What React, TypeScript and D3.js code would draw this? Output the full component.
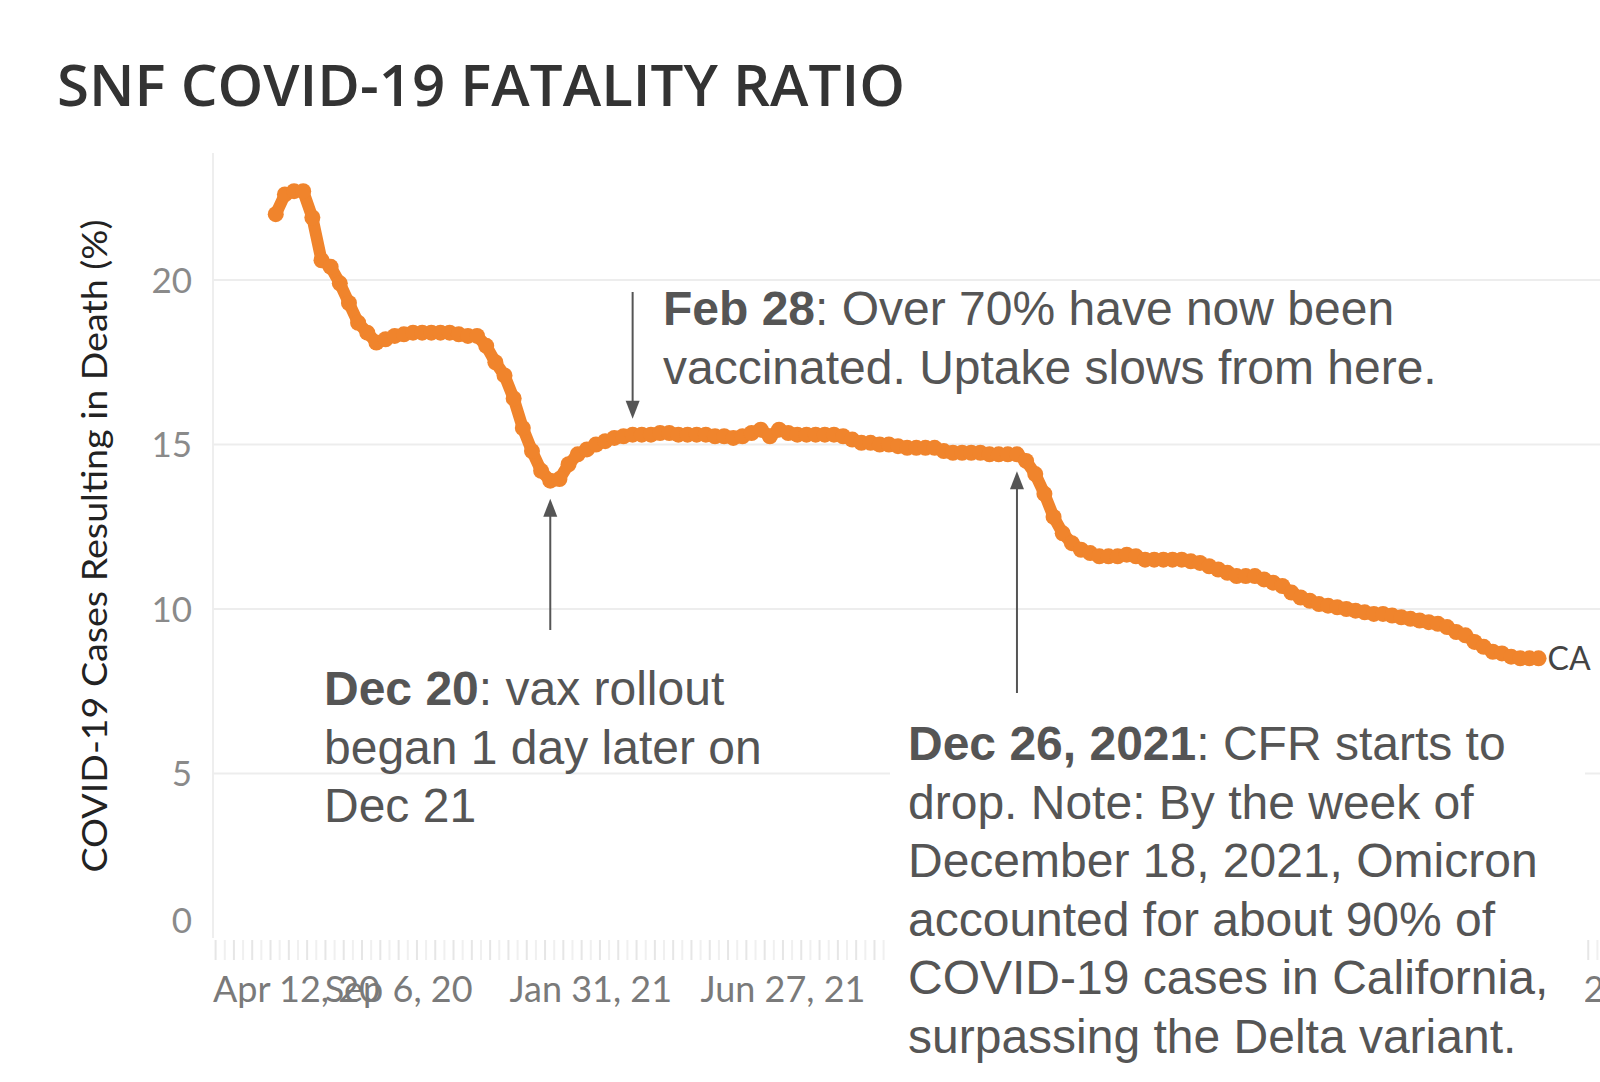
import { useRef, useEffect } from 'react';
import * as d3 from 'd3';

// weekly CFR values (%), first week starting Jun 4, 2020
const FIRST_WEEK = '2020-06-04';
const CFR_VALUES = [
  22.0, 22.6, 22.7, 22.7, 21.9, 20.6, 20.4, 19.9, 19.3, 18.7,
  18.4, 18.1, 18.2, 18.3, 18.35, 18.4, 18.4, 18.4, 18.4, 18.4,
  18.35, 18.3, 18.3, 18.0, 17.5, 17.1, 16.4, 15.5, 14.8, 14.2,
  13.9, 13.95, 14.4, 14.7, 14.85, 15.0, 15.1, 15.2, 15.25, 15.3,
  15.3, 15.3, 15.35, 15.35, 15.3, 15.3, 15.3, 15.3, 15.25, 15.25,
  15.2, 15.25, 15.35, 15.45, 15.25, 15.45, 15.35, 15.3, 15.3, 15.3,
  15.3, 15.3, 15.25, 15.15, 15.05, 15.05, 15.0, 15.0, 14.95, 14.9,
  14.9, 14.9, 14.9, 14.8, 14.75, 14.75, 14.75, 14.75, 14.7, 14.7,
  14.7, 14.7, 14.5, 14.1, 13.5, 12.8, 12.3, 12.0, 11.8, 11.7,
  11.6, 11.6, 11.6, 11.65, 11.6, 11.5, 11.5, 11.5, 11.5, 11.5,
  11.45, 11.4, 11.3, 11.2, 11.1, 11.0, 11.0, 11.0, 10.9, 10.8,
  10.7, 10.5, 10.35, 10.25, 10.15, 10.1, 10.05, 10.0, 9.95, 9.9,
  9.85, 9.85, 9.8, 9.75, 9.7, 9.65, 9.6, 9.55, 9.45, 9.3,
  9.2, 9.0, 8.85, 8.7, 8.65, 8.55, 8.5, 8.5, 8.5,
];
const SERIES_LABEL = 'CA';

const X_TICK_DATES = [
  '2020-04-12', '2020-09-06', '2021-01-31', '2021-06-27',
  '2021-11-21', '2022-04-17', '2022-09-11', '2023-02-05',
];
const Y_TICKS = [0, 5, 10, 15, 20];

const TITLE = 'SNF COVID-19 FATALITY RATIO';
const Y_TITLE = 'COVID-19 Cases Resulting in Death (%)';

// annotation text: [bold lead, rest of first line], then extra lines
const NOTE_FEB = ['Feb 28', ': Over 70% have now been', 'vaccinated. Uptake slows from here.'];
const NOTE_DEC20 = ['Dec 20', ': vax rollout', 'began 1 day later on', 'Dec 21'];
const NOTE_DEC26 = [
  'Dec 26, 2021', ': CFR starts to',
  'drop. Note: By the week of',
  'December 18, 2021, Omicron',
  'accounted for about 90% of',
  'COVID-19 cases in California,',
  'surpassing the Delta variant.',
];
// index of the weekly point each arrow points at
const ARROW_POINTS = { feb: 39, dec20: 30, dec26: 81 };

const W = 1600;
const H = 1082;
const P = { left: 213, top: 153, bottom: 938, right: W };
const ORANGE = '#f0842c';
const NOTE_FONT = '"Liberation Sans", Arial, sans-serif';
const TAB_FONT = 'Lato, "Open Sans", sans-serif';
// white panel that sits behind the Dec 26 note
const PANEL = { x: 890, y: 700, right: 1585 };

export default function App() {
  const svgRef = useRef<SVGSVGElement>(null);

  useEffect(() => {
    const svg = d3.select(svgRef.current);
    svg.selectAll('*').remove();

    const parse = d3.timeParse('%Y-%m-%d');
    const start = parse(FIRST_WEEK)!;
    const data = CFR_VALUES.map((v, i) => ({ date: d3.timeWeek.offset(start, i), v }));

    const x = d3
      .scaleTime()
      .domain([parse('2020-04-17')!, parse('2023-03-14')!])
      .range([P.left, P.right]);
    const y = d3.scaleLinear().domain([0, 20]).range([P.bottom, 280]);

    svg.append('rect').attr('width', W).attr('height', H).attr('fill', '#fff');

    // title
    svg
      .append('text')
      .attr('x', 57)
      .attr('y', 106)
      .attr('fill', '#333')
      .attr('font-family', '"Open Sans", Lato, sans-serif')
      .attr('font-weight', 600)
      .attr('font-size', 58)
      .attr('textLength', 848)
      .attr('lengthAdjust', 'spacingAndGlyphs')
      .text(TITLE);

    // pane border + grid
    svg
      .append('line')
      .attr('x1', P.left)
      .attr('x2', P.left)
      .attr('y1', P.top)
      .attr('y2', P.bottom)
      .attr('stroke', '#eeeeee')
      .attr('stroke-width', 2);

    Y_TICKS.forEach((t) => {
      if (t > 0) {
        svg
          .append('line')
          .attr('x1', P.left)
          .attr('x2', P.right)
          .attr('y1', y(t))
          .attr('y2', y(t))
          .attr('stroke', '#ededed')
          .attr('stroke-width', 2);
      }
      svg
        .append('text')
        .attr('x', 192)
        .attr('y', t === 0 ? y(t) - 18 : y(t))
        .attr('dy', '0.36em')
        .attr('text-anchor', 'end')
        .attr('fill', '#8a8a8a')
        .attr('font-family', TAB_FONT)
        .attr('font-size', 35)
        .text(t);
    });

    // y title
    svg
      .append('text')
      .attr('transform', 'rotate(-90)')
      .attr('x', -546)
      .attr('y', 107)
      .attr('text-anchor', 'middle')
      .attr('fill', '#222')
      .attr('font-family', TAB_FONT)
      .attr('font-size', 35)
      .attr('textLength', 653)
      .attr('lengthAdjust', 'spacingAndGlyphs')
      .text(Y_TITLE);

    // x axis tick marks (weekly)
    const weeks = d3.timeWeek.range(x.domain()[0], x.domain()[1]);
    weeks.forEach((d, i) => {
      svg
        .append('line')
        .attr('x1', x(d))
        .attr('x2', x(d))
        .attr('y1', P.bottom + 2)
        .attr('y2', P.bottom + 22)
        .attr('stroke', i % 2 ? '#f0f0f0' : '#e6e6e6')
        .attr('stroke-width', 2);
    });

    // x tick labels (the ones fully under the note panel are not shown)
    const fmt = d3.timeFormat('%b %-d, %y');
    X_TICK_DATES.forEach((s) => {
      const d = parse(s)!;
      const t = svg
        .append('text')
        .attr('y', 1002)
        .attr('fill', '#7a7a7a')
        .attr('font-family', TAB_FONT)
        .attr('font-size', 36)
        .text(fmt(d));
      const w = (t.node() as SVGTextElement).getComputedTextLength();
      const lx = Math.max(x(d) - w / 2, P.left);
      if (lx > PANEL.x - 20 && lx + w < PANEL.right) {
        t.remove();
        return;
      }
      t.attr('x', lx);
    });

    // series
    const line = d3
      .line<{ date: Date; v: number }>()
      .x((d) => x(d.date))
      .y((d) => y(d.v));
    svg
      .append('path')
      .datum(data)
      .attr('d', line)
      .attr('fill', 'none')
      .attr('stroke', ORANGE)
      .attr('stroke-width', 12)
      .attr('stroke-linejoin', 'round');
    svg
      .selectAll('circle.pt')
      .data(data)
      .join('circle')
      .attr('class', 'pt')
      .attr('cx', (d) => x(d.date))
      .attr('cy', (d) => y(d.v))
      .attr('r', 8)
      .attr('fill', ORANGE);

    const last = data[data.length - 1];
    svg
      .append('text')
      .attr('x', x(last.date) + 9)
      .attr('y', y(last.v))
      .attr('dy', '0.36em')
      .attr('fill', '#444')
      .attr('font-family', TAB_FONT)
      .attr('font-size', 32)
      .text(SERIES_LABEL);

    // arrows
    const arrow = (px: number, tail: number, tip: number) => {
      const dir = tip > tail ? 1 : -1;
      svg
        .append('line')
        .attr('x1', px)
        .attr('x2', px)
        .attr('y1', tail)
        .attr('y2', tip - dir * 16)
        .attr('stroke', '#555')
        .attr('stroke-width', 2);
      svg
        .append('path')
        .attr('d', `M${px},${tip}L${px - 7},${tip - dir * 18}L${px + 7},${tip - dir * 18}Z`)
        .attr('fill', '#555');
    };
    const pf = data[ARROW_POINTS.feb];
    arrow(x(pf.date), 292, y(pf.v) - 16);
    const p20 = data[ARROW_POINTS.dec20];
    arrow(x(p20.date), 630, y(p20.v) + 18);
    const p26 = data[ARROW_POINTS.dec26];
    arrow(x(p26.date), 693, y(p26.v) + 17);

    // annotations
    const note = (lines: string[], x0: number, y0: number) => {
      const g = svg
        .append('text')
        .attr('fill', '#555')
        .attr('font-family', NOTE_FONT)
        .attr('font-size', 48);
      const first = g.append('tspan').attr('x', x0).attr('y', y0);
      first.append('tspan').attr('font-weight', 700).text(lines[0]);
      first.append('tspan').text(lines[1]);
      lines.slice(2).forEach((l, i) => {
        g.append('tspan').attr('x', x0).attr('y', y0 + 58.5 * (i + 1)).text(l);
      });
    };
    note(NOTE_FEB, 663, 325);
    note(NOTE_DEC20, 324, 705);

    svg
      .append('rect')
      .attr('x', PANEL.x)
      .attr('y', PANEL.y)
      .attr('width', PANEL.right - PANEL.x)
      .attr('height', H - PANEL.y)
      .attr('fill', '#fff');
    note(NOTE_DEC26, 908, 760);
  }, []);

  return (
    <div style={{ position: 'absolute', left: 0, top: 0 }}>
      <svg ref={svgRef} width={W} height={H} style={{ display: 'block' }} />
    </div>
  );
}
